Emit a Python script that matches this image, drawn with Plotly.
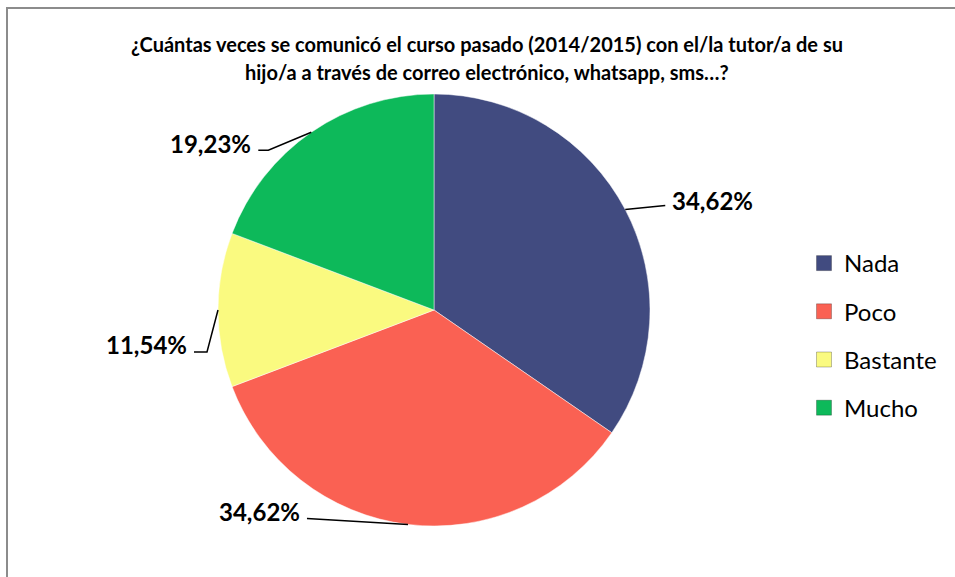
import math
import plotly.graph_objects as go

# ---- data ----
categories = ["Nada", "Poco", "Bastante", "Mucho"]
counts = [9, 9, 3, 5]
colors = ["#414B80", "#FA6153", "#FAFA80", "#0DB95A"]
title_lines = [
    "¿Cuántas veces se comunicó el curso pasado (2014/2015) con el/la tutor/a de su",
    "hijo/a a través de correo electrónico, whatsapp, sms…?",
]

# ---- layout constants (pixels) ----
W, H = 955, 577
CX, CY, R = 434, 310, 216
FONT = "Lato"
# leader-line styling per slice: knee offset from slice edge, horizontal tail, label side
leader_style = [
    dict(kx=40, ky=-4, tail=0, side="right", ty=-5),
    dict(kx=-101, ky=-6, tail=0, side="left", ty=-7),
    dict(kx=-11, ky=42, tail=-13, side="left", ty=-8),
    dict(kx=-43, ky=18, tail=-10, side="left", ty=-7),
]


def px(x):
    return x / W


def py(y):
    return 1 - y / H


total = sum(counts)
fig = go.Figure()
fig.add_trace(go.Pie(
    labels=categories, values=counts, sort=False, direction="clockwise", rotation=0,
    marker=dict(colors=colors, line=dict(color="rgba(255,255,255,0.6)", width=0.8)),
    textinfo="none", hoverinfo="label+percent", showlegend=False,
    domain=dict(x=[px(CX - R), px(CX + R)], y=[py(CY + R), py(CY - R)]),
))

# legend entries
for cat, col in zip(categories, colors):
    fig.add_trace(go.Scatter(
        x=[None], y=[None], mode="markers", name=cat, legendgroup=cat,
        marker=dict(symbol="square", size=15, color=col,
                    line=dict(color="rgba(0,0,0,0.25)", width=1)),
    ))

shapes = [
    dict(type="line", xref="paper", yref="paper", x0=px(6), x1=1.01, y0=py(8), y1=py(8),
         line=dict(color="#8C8C8C", width=2)),
    dict(type="line", xref="paper", yref="paper", x0=px(7), x1=px(7), y0=py(8), y1=-0.01,
         line=dict(color="#8C8C8C", width=2)),
]
annotations = []
cum = 0
for v, st in zip(counts, leader_style):
    mid = (cum + v / 2) / total * 2 * math.pi
    cum += v
    ex, ey = CX + R * math.sin(mid), CY - R * math.cos(mid)
    kx, ky = ex + st["kx"], ey + st["ky"]
    tx, ty = kx + st["tail"], ky
    path = f"M {px(ex)},{py(ey)} L {px(kx)},{py(ky)} L {px(tx)},{py(ty)}"
    shapes.append(dict(type="path", xref="paper", yref="paper", path=path,
                       line=dict(color="black", width=1.5)))
    pct = f"{v / total * 100:.2f}%".replace(".", ",")
    if st["side"] == "right":
        lx, anchor = tx + 5, "left"
    else:
        lx, anchor = tx - 5, "right"
    annotations.append(dict(
        x=px(lx), y=py(ty + st["ty"]), xref="paper", yref="paper", text=f"<b>{pct}</b>",
        showarrow=False, xanchor=anchor, yanchor="middle",
        font=dict(family=FONT, size=24, color="black"),
    ))

for i, line in enumerate(title_lines):
    annotations.append(dict(
        x=px(487), y=py(44 + i * 28), xref="paper", yref="paper", text=f"<b>{line}</b>",
        showarrow=False, xanchor="center", yanchor="middle",
        font=dict(family=FONT, size=20, color="black"),
    ))

fig.update_layout(
    width=W, height=H, margin=dict(l=0, r=0, t=0, b=0),
    paper_bgcolor="white", plot_bgcolor="white",
    xaxis=dict(visible=False), yaxis=dict(visible=False),
    shapes=shapes, annotations=annotations,
    legend=dict(x=px(804), y=py(241), xanchor="left", yanchor="top",
                font=dict(family=FONT, size=24, color="black"),
                tracegroupgap=14, bgcolor="rgba(0,0,0,0)"),
    font=dict(family=FONT),
)
fig.write_html("out.html", config={"displayModeBar": False},
               post_script="document.body.style.margin='0';document.body.style.overflow='hidden';")
